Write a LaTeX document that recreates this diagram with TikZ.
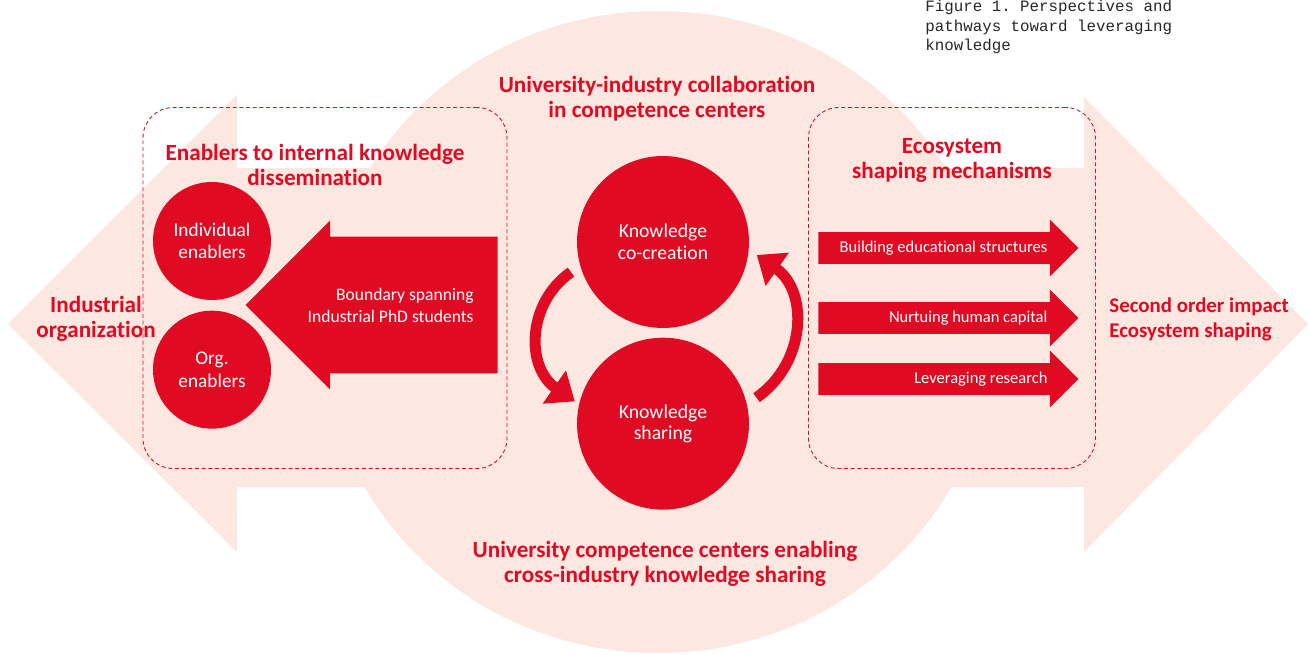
\documentclass[tikz,border=0pt]{standalone}
\usepackage{fontspec}
\setmainfont{Carlito}[Ligatures=NoCommon]
\setmonofont{Liberation Mono}
\usetikzlibrary{shapes,arrows.meta,positioning}
\definecolor{uired}{RGB}{225,10,35}
\definecolor{uipale}{RGB}{252,231,225}
\tikzstyle{heading} = [text=uired, align=center, inner sep=0pt, font=\fontsize{13.2}{14.2}\selectfont\bfseries]
\tikzstyle{enabler} = [circle, fill=uired, text=white, align=center, minimum size=2.36cm, inner sep=0pt, font=\fontsize{11}{12.9}\selectfont]
\tikzstyle{hub} = [circle, fill=uired, text=white, align=center, minimum size=3.44cm, inner sep=0pt, font=\fontsize{11.2}{12.3}\selectfont]
\tikzstyle{dashbox} = [rectangle, draw=uired, line width=0.5pt, dash pattern=on 2.2pt off 1.6pt, rounded corners=0.6cm]
\tikzstyle{blockarrow} = [single arrow, fill=uired, inner xsep=0pt, inner ysep=1.36cm, single arrow tip angle=90, shape border rotate=180, minimum height=5.04cm, single arrow head extend=0.32cm]
\tikzstyle{mecharrow} = [single arrow, fill=uired, inner xsep=0pt, inner ysep=0.31cm, single arrow tip angle=90, minimum height=5.2cm, single arrow head extend=0.25cm]
\tikzstyle{arrowtext} = [text=white, align=right, inner sep=0pt, font=\fontsize{10}{12.5}\selectfont]
\tikzstyle{mechtext} = [text=white, inner sep=0pt, font=\fontsize{9.4}{10}\selectfont]
\tikzstyle{cyclearrow} = [uired, line width=0.22cm, -{Triangle[length=0.5cm, width=0.78cm]}]
\tikzstyle{caption} = [text=black!85, align=left, inner sep=0pt, font=\fontsize{9}{11}\selectfont\ttfamily]

\begin{document}
\begin{tikzpicture}[x=0.02cm, y=-0.02cm]
    \useasboundingbox (0,0) rectangle (1309,655);
    % pale double arrow and competence centre disc behind everything
    \fill[uipale] (237,168) -- (237,95) -- (8,324) -- (237,552) -- (237,487)
        -- (1084,487) -- (1084,552) -- (1308,324) -- (1084,97) -- (1084,168) -- cycle;
    \fill[uipale] (658,332) ellipse [x radius=335, y radius=321];

    \node[dashbox, minimum width=7.28cm, minimum height=7.22cm] (inbox) at (325,288) {};
    \node[dashbox, minimum width=5.74cm, minimum height=7.22cm] (ecobox) at (952,288) {};

    % industry side
    \node[enabler] (indiv) at (212,241) {Individual\\enablers};
    \node[enabler, below=0.2cm of indiv] (org) {Org.\\enablers};
    \node[blockarrow, anchor=tail] (phd) at (498,305) {};
    \node[arrowtext, anchor=east] (phdtxt) at ([xshift=-0.48cm]phd.tail) {Boundary spanning\\Industrial PhD students};

    % knowledge cycle
    \node[hub] (create) at (663,242) {Knowledge\\co-creation};
    \node[hub, below=0.18cm of create] (share) {Knowledge\\sharing};
    \draw[cyclearrow, shorten <=0.22cm, shorten >=0.1cm] (create.196) to[out=215, in=145, looseness=1.2] (share.167);
    \draw[cyclearrow, shorten <=0.23cm, shorten >=0.19cm] (share.13) to[out=35, in=-35, looseness=1.2] (create.-5);

    % ecosystem mechanisms
    \node[mecharrow, anchor=tail] (build) at (818,248) {};
    \node[mecharrow, anchor=tail] (nurture) at (818,318) {};
    \node[mecharrow, anchor=tail] (research) at (818,379) {};
    \node[mechtext, anchor=east] (buildtxt) at ([xshift=-0.62cm]build.tip) {Building educational structures};
    \node[mechtext, anchor=east] (nurturetxt) at ([xshift=-0.62cm]nurture.tip) {Nurtuing human capital};
    \node[mechtext, anchor=east] (researchtxt) at ([xshift=-0.62cm]research.tip) {Leveraging research};

    % headings
    \node[heading] (uic) at (657,99) {University-industry collaboration\\in competence centers};
    \node[heading] (ucc) at (665,564) {University competence centers enabling\\cross-industry knowledge sharing};
    \node[heading] (enab) at (315,165) {Enablers to internal knowledge\\dissemination};
    \node[heading] (eco) at (952,160) {Ecosystem\\shaping mechanisms};
    \node[heading] (indorg) at (96,319) {Industrial\\organization};
    \node[heading, align=left, anchor=west, font=\fontsize{11.9}{14.2}\selectfont\bfseries] (impact) at (1109,319) {Second order impact\\Ecosystem shaping};

    \node[caption, anchor=north west] (fig) at (925,0) {Figure 1. Perspectives and\\pathways toward leveraging\\knowledge};
\end{tikzpicture}
\end{document}
